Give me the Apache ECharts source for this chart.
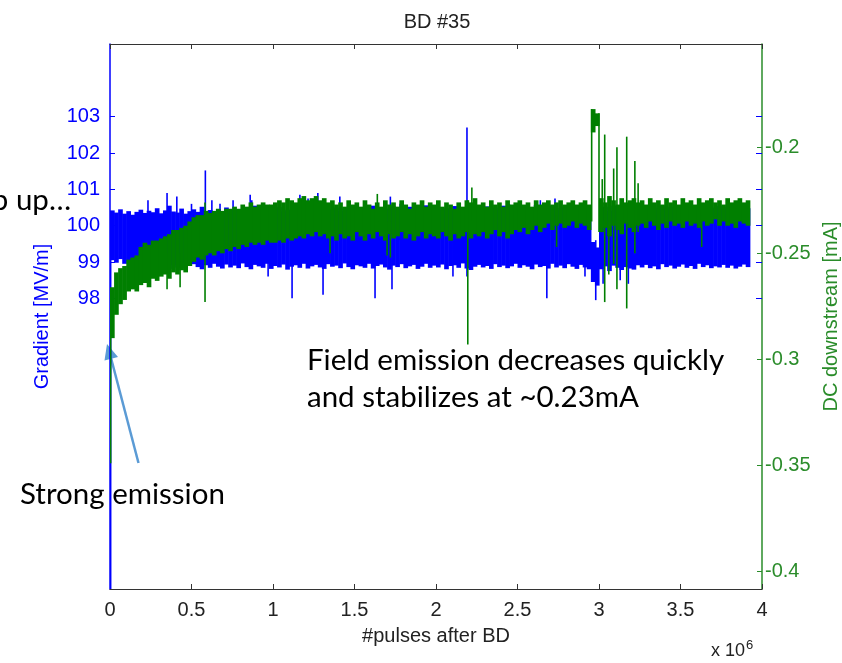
<!DOCTYPE html>
<html>
<head>
<meta charset="utf-8">
<title>BD #35</title>
<script src="https://cdn.jsdelivr.net/npm/echarts@6/dist/echarts.min.js"></script>
<style>
  html, body { margin: 0; padding: 0; background: #fff; }
  #chart { width: 842px; height: 663px; }
</style>
</head>
<body>
<div id="chart"></div>
<script>
// x in units of 1e6 pulses, one bin every 0.025e6
const binStep = 0.025;
const xTicks = [0, 0.5, 1, 1.5, 2, 2.5, 3, 3.5, 4];
const gradientTicks = [98, 99, 100, 101, 102, 103];
const currentTicks = [-0.4, -0.35, -0.3, -0.25, -0.2];

// Gradient [MV/m]: upper / lower edge of the noise band per bin
const blueHigh = [
  100.42, 100.36, 100.45, 100.33, 100.40, 100.30, 100.38, 100.44, 100.35, 100.41,
  100.37, 100.48, 100.34, 100.42, 100.55, 100.39, 100.36, 100.47, 100.33, 100.40,
  100.45, 100.38, 100.52, 100.36, 100.43, 100.35, 100.46, 100.39, 100.50, 100.37,
  100.44, 100.36, 100.41, 100.49, 100.38, 100.55, 100.40, 100.35, 100.46, 100.42,
  100.37, 100.51, 100.39, 100.44, 100.36, 100.48, 100.41, 100.53, 100.45, 100.40,
  100.47, 100.42, 100.56, 100.39, 100.45, 100.50, 100.41, 100.48, 100.43, 100.52,
  100.40, 100.46, 100.51, 100.42, 100.55, 100.44, 100.49, 100.41, 100.47, 100.53,
  100.43, 100.48, 100.40, 100.52, 100.45, 100.49, 100.42, 100.56, 100.44, 100.47,
  100.51, 100.43, 100.48, 100.45, 100.54, 100.41, 100.49, 100.46, 100.58, 100.44,
  100.48, 100.42, 100.53, 100.46, 100.50, 100.43, 100.55, 100.47, 100.44, 100.51,
  100.46, 100.52, 100.43, 100.49, 100.57, 100.45, 100.50, 100.47, 100.54, 100.44,
  100.49, 100.53, 100.46, 100.51, 100.44, 100.55, 100.48, 100.50, 99.55, 99.40,
  100.45, 100.52, 100.40, 100.55, 100.47, 100.43, 100.58, 100.46, 100.50, 100.42,
  100.48, 100.53, 100.45, 100.50, 100.44, 100.56, 100.47, 100.52, 100.43, 100.49,
  100.55, 100.46, 100.51, 100.44, 100.48, 100.53, 100.45, 100.50, 100.47, 100.54,
  100.46, 100.51, 100.44, 100.49, 100.52, 100.45, 100.48
];
const blueLow = [
  99.05, 98.98, 99.08, 98.95, 99.02, 98.90, 99.00, 98.93, 98.86, 98.97,
  98.90, 98.84, 98.95, 98.88, 98.81, 98.92, 98.85, 98.96, 98.83, 98.89,
  98.94, 98.86, 98.80, 98.91, 98.84, 98.95, 98.87, 98.82, 98.93, 98.85,
  98.90, 98.83, 98.96, 98.86, 98.80, 98.92, 98.88, 98.84, 98.95, 98.81,
  98.89, 98.85, 98.93, 98.79, 98.87, 98.91, 98.84, 98.95, 98.82, 98.88,
  98.92, 98.85, 98.81, 98.94, 98.87, 98.90, 98.83, 98.96, 98.86, 98.80,
  98.91, 98.88, 98.84, 98.95, 98.82, 98.89, 98.93, 98.85, 98.79, 98.90,
  98.86, 98.94, 98.83, 98.88, 98.92, 98.81, 98.87, 98.95, 98.84, 98.90,
  98.85, 98.93, 98.80, 98.89, 98.91, 98.84, 98.96, 98.82, 98.78, 98.87,
  98.92, 98.85, 98.89, 98.81, 98.94, 98.86, 98.90, 98.83, 98.88, 98.95,
  98.84, 98.91, 98.87, 98.80, 98.93, 98.86, 98.89, 98.82, 98.95, 98.85,
  98.90, 98.83, 98.94, 98.87, 98.81, 98.92, 98.85, 98.80, 98.45, 98.35,
  98.80, 98.88, 98.75, 98.90, 98.84, 98.78, 98.86, 98.82, 98.79, 98.91,
  98.85, 98.92, 98.83, 98.88, 98.80, 98.94, 98.86, 98.90, 98.82, 98.87,
  98.93, 98.84, 98.89, 98.81, 98.95, 98.86, 98.91, 98.83, 98.88, 98.85,
  98.92, 98.84, 98.90, 98.82, 98.87, 98.93, 98.86
];
// single-pulse excursions of the gradient: [x, low, high]
const blueSpikes = [
  [0.004, 90.0, 100.3], [0.233, 99.6, 100.7], [0.35, 99.6, 100.9], [0.41, 99.6, 100.8],
  [0.50, 99.6, 100.6], [0.585, 99.6, 101.52], [0.625, 99.6, 100.7], [0.675, 99.6, 100.6],
  [0.755, 99.6, 100.7], [0.86, 99.6, 100.85], [0.87, 99.6, 100.7], [1.04, 99.6, 100.6],
  [1.165, 99.6, 100.85], [1.215, 99.6, 100.75], [1.275, 99.6, 100.9], [1.41, 99.6, 100.8],
  [1.72, 99.6, 100.8], [1.78, 99.6, 100.6], [2.19, 99.6, 102.7], [2.45, 99.6, 100.6],
  [2.64, 99.6, 100.7], [2.73, 99.6, 100.75],
  [0.97, 98.6, 99.6], [1.117, 98.0, 99.6], [1.307, 98.1, 99.6], [1.626, 98.0, 99.6],
  [1.73, 98.25, 99.6], [2.104, 98.6, 99.6], [2.19, 98.6, 99.6], [2.68, 98.0, 99.6],
  [2.914, 98.6, 99.6], [2.98, 97.95, 99.6], [3.025, 98.4, 99.6], [3.13, 98.5, 99.6],
  [3.18, 98.4, 99.6]
];

// DC downstream [mA]: upper / lower edge of the band per bin
const greenHigh = [
  -0.266, -0.259, -0.257, -0.256, -0.253, -0.252, -0.251, -0.247, -0.245, -0.246,
  -0.244, -0.244, -0.243, -0.242, -0.241, -0.239, -0.239, -0.238, -0.237, -0.235,
  -0.233, -0.232, -0.232, -0.230, -0.231, -0.230, -0.229, -0.230, -0.229, -0.229,
  -0.228, -0.229, -0.227, -0.228, -0.226, -0.228, -0.227, -0.226, -0.227, -0.227,
  -0.226, -0.225, -0.226, -0.224, -0.225, -0.226, -0.224, -0.223, -0.225, -0.224,
  -0.223, -0.225, -0.224, -0.226, -0.225, -0.227, -0.226, -0.228, -0.225, -0.227,
  -0.226, -0.228, -0.225, -0.227, -0.229, -0.226, -0.228, -0.225, -0.227, -0.226,
  -0.228, -0.225, -0.227, -0.229, -0.226, -0.227, -0.225, -0.228, -0.226, -0.227,
  -0.225, -0.228, -0.226, -0.227, -0.229, -0.226, -0.228, -0.225, -0.226, -0.224,
  -0.227, -0.226, -0.228, -0.225, -0.227, -0.226, -0.228, -0.225, -0.227, -0.226,
  -0.225, -0.227, -0.226, -0.228, -0.225, -0.227, -0.226, -0.225, -0.227, -0.226,
  -0.225, -0.227, -0.226, -0.225, -0.227, -0.226, -0.225, -0.227, -0.182, -0.184,
  -0.224, -0.226, -0.223, -0.225, -0.227, -0.224, -0.226, -0.225, -0.224, -0.226,
  -0.225, -0.227, -0.224, -0.226, -0.225, -0.227, -0.224, -0.226, -0.225, -0.227,
  -0.224, -0.226, -0.225, -0.227, -0.224, -0.226, -0.225, -0.224, -0.226, -0.225,
  -0.227, -0.224, -0.226, -0.225, -0.224, -0.226, -0.225
];
const greenLow = [
  -0.290, -0.279, -0.274, -0.272, -0.268, -0.267, -0.268, -0.265, -0.264, -0.266,
  -0.262, -0.263, -0.261, -0.260, -0.262, -0.259, -0.260, -0.258, -0.259, -0.256,
  -0.254, -0.252, -0.253, -0.251, -0.250, -0.251, -0.249, -0.250, -0.248, -0.249,
  -0.247, -0.248, -0.246, -0.247, -0.245, -0.246, -0.245, -0.246, -0.244, -0.245,
  -0.245, -0.244, -0.245, -0.243, -0.244, -0.243, -0.242, -0.243, -0.241, -0.242,
  -0.240, -0.242, -0.241, -0.243, -0.242, -0.244, -0.241, -0.243, -0.242, -0.244,
  -0.240, -0.242, -0.244, -0.241, -0.243, -0.240, -0.242, -0.244, -0.241, -0.243,
  -0.242, -0.240, -0.243, -0.241, -0.244, -0.242, -0.240, -0.243, -0.241, -0.242,
  -0.243, -0.240, -0.242, -0.244, -0.241, -0.243, -0.242, -0.240, -0.243, -0.241,
  -0.242, -0.240, -0.243, -0.241, -0.239, -0.242, -0.240, -0.243, -0.241, -0.239,
  -0.240, -0.238, -0.241, -0.239, -0.237, -0.240, -0.238, -0.236, -0.239, -0.237,
  -0.236, -0.238, -0.237, -0.235, -0.238, -0.236, -0.237, -0.239, -0.193, -0.190,
  -0.240, -0.238, -0.242, -0.237, -0.239, -0.241, -0.236, -0.238, -0.240, -0.237,
  -0.236, -0.238, -0.235, -0.237, -0.239, -0.236, -0.238, -0.235, -0.237, -0.236,
  -0.238, -0.235, -0.237, -0.236, -0.238, -0.235, -0.237, -0.236, -0.234, -0.237,
  -0.235, -0.237, -0.236, -0.238, -0.235, -0.236, -0.237
];
const greenSpikes = [
  [0.004, -0.349, -0.268], [0.35, -0.267, -0.250], [0.43, -0.266, -0.250],
  [0.583, -0.273, -0.226], [1.35, -0.250, -0.235], [1.64, -0.235, -0.222],
  [1.70, -0.251, -0.235], [1.72, -0.252, -0.235], [2.195, -0.293, -0.225],
  [2.22, -0.235, -0.219], [2.74, -0.247, -0.232], [2.955, -0.235, -0.182],
  [3.0, -0.240, -0.184], [3.02, -0.235, -0.215], [3.035, -0.273, -0.194],
  [3.06, -0.260, -0.230], [3.09, -0.255, -0.210], [3.11, -0.267, -0.200],
  [3.17, -0.276, -0.195], [3.22, -0.250, -0.2065], [3.24, -0.240, -0.217],
  [3.63, -0.247, -0.232]
];

const BLUE = "#0000ff";
const GREEN = "#007f00";
const GREEN_AXIS = "#2a8c2a";
const TICK_FONT = "Liberation Sans";
const NOTE_FONT = "29.5px Lato";

const chart = echarts.init(document.getElementById("chart"));

const bandRender = (params, api) => {
  const x = api.value(0);
  const top = api.coord([x, api.value(2)]);
  const bottom = api.coord([x + binStep, api.value(1)]);
  return {
    type: "rect",
    shape: { x: top[0], y: top[1], width: bottom[0] - top[0] + 0.6, height: bottom[1] - top[1] },
    style: { fill: api.visual("color") },
  };
};

const spikeRender = (params, api) => {
  const x = api.value(0);
  const a = api.coord([x, api.value(1)]);
  const b = api.coord([x, api.value(2)]);
  return {
    type: "line",
    shape: { x1: a[0], y1: a[1], x2: b[0], y2: b[1] },
    style: { stroke: api.visual("color"), lineWidth: 1.6 },
  };
};

const tickLabel = (color) => ({ color, fontFamily: TICK_FONT, fontSize: 20 });

chart.setOption({
  animation: false,
  title: {
    text: "BD #35",
    left: 432,
    top: 7,
    textAlign: "center",
    textStyle: { fontFamily: TICK_FONT, fontSize: 20, fontWeight: "normal", color: "#222" },
  },
  grid: { left: 110, right: 80, top: 44, bottom: 74, outerBoundsMode: "none" },
  xAxis: [
    {
      type: "value",
      min: 0,
      max: 4,
      interval: 0.5,
      name: "#pulses after BD",
      nameLocation: "middle",
      nameGap: 37,
      nameTextStyle: { color: "#222", fontFamily: TICK_FONT, fontSize: 20 },
      axisLine: { onZero: false, lineStyle: { color: "#333", width: 1.2 } },
      axisTick: { inside: true, length: 5, lineStyle: { color: "#333" } },
      axisLabel: { ...tickLabel("#222"), margin: 11 },
      splitLine: { show: false },
    },
    {
      type: "value",
      position: "top",
      min: 0,
      max: 4,
      interval: 0.5,
      axisLine: { onZero: false, lineStyle: { color: "#333", width: 1.2 } },
      axisTick: { inside: true, length: 5, lineStyle: { color: "#333" } },
      axisLabel: { show: false },
      splitLine: { show: false },
    },
  ],
  yAxis: [
    {
      type: "value",
      position: "left",
      min: 90,
      max: 105,
      name: "Gradient [MV/m]",
      nameLocation: "middle",
      nameRotate: 90,
      nameGap: 58,
      nameTextStyle: { color: BLUE, fontFamily: TICK_FONT, fontSize: 20 },
      axisLine: { onZero: false, lineStyle: { color: BLUE, width: 1.5 } },
      axisTick: { inside: true, length: 5, customValues: gradientTicks, lineStyle: { color: BLUE } },
      axisLabel: { ...tickLabel(BLUE), margin: 10, customValues: gradientTicks },
      splitLine: { show: false },
    },
    {
      type: "value",
      position: "right",
      min: -0.4083,
      max: -0.1513,
      name: "DC downstream [mA]",
      nameLocation: "middle",
      nameRotate: 90,
      nameGap: 58,
      nameTextStyle: { color: GREEN_AXIS, fontFamily: TICK_FONT, fontSize: 20 },
      axisLine: { onZero: false, lineStyle: { color: GREEN_AXIS, width: 1.5 } },
      axisTick: { inside: true, length: 5, customValues: currentTicks, lineStyle: { color: GREEN_AXIS } },
      axisLabel: {
        ...tickLabel(GREEN_AXIS),
        margin: 3,
        customValues: currentTicks,
        formatter: (v) => String(Math.round(v * 100) / 100),
      },
      splitLine: { show: false },
    },
    {
      // gradient ticks mirrored on the right edge of the box
      type: "value",
      position: "right",
      min: 90,
      max: 105,
      axisLine: { show: false, onZero: false },
      axisTick: { inside: true, length: 6, customValues: gradientTicks, lineStyle: { color: BLUE } },
      axisLabel: { show: false },
      splitLine: { show: false },
    },
  ],
  series: [
    {
      name: "Gradient",
      type: "custom",
      yAxisIndex: 0,
      clip: true,
      itemStyle: { color: BLUE },
      encode: { x: 0, y: [1, 2] },
      data: blueHigh.map((h, i) => [i * binStep, blueLow[i], h]),
      renderItem: bandRender,
    },
    {
      name: "Gradient spikes",
      type: "custom",
      yAxisIndex: 0,
      clip: true,
      itemStyle: { color: BLUE },
      encode: { x: 0, y: [1, 2] },
      data: blueSpikes,
      renderItem: spikeRender,
    },
    {
      name: "DC downstream",
      type: "custom",
      yAxisIndex: 1,
      clip: true,
      itemStyle: { color: GREEN },
      encode: { x: 0, y: [1, 2] },
      data: greenHigh.map((h, i) => [i * binStep, greenLow[i], h]),
      renderItem: bandRender,
    },
    {
      name: "DC spikes",
      type: "custom",
      yAxisIndex: 1,
      clip: true,
      itemStyle: { color: GREEN },
      encode: { x: 0, y: [1, 2] },
      data: greenSpikes,
      renderItem: spikeRender,
    },
  ],
  graphic: [
    {
      type: "text",
      left: 711,
      top: 639,
      style: {
        text: "x 10{sup|6}",
        fill: "#222",
        font: "18px Liberation Sans",
        rich: { sup: { fontSize: 13, fontFamily: TICK_FONT, verticalAlign: "top", padding: [0, 0, 12, 1] } },
      },
    },
    {
      type: "text",
      x: 71,
      y: 200,
      style: { text: "p up\u2026", fill: "#000", font: NOTE_FONT, align: "right", verticalAlign: "middle" },
    },
    {
      type: "text",
      x: 307,
      y: 360,
      style: { text: "Field emission decreases quickly", fill: "#000", font: NOTE_FONT, verticalAlign: "middle" },
    },
    {
      type: "text",
      x: 307,
      y: 397,
      style: { text: "and stabilizes at ~0.23mA", fill: "#000", font: NOTE_FONT, verticalAlign: "middle" },
    },
    {
      type: "text",
      x: 20,
      y: 494,
      style: { text: "Strong emission", fill: "#000", font: NOTE_FONT, verticalAlign: "middle" },
    },
    {
      type: "line",
      shape: { x1: 138.5, y1: 463, x2: 111, y2: 358 },
      style: { stroke: "#5b9bd5", lineWidth: 2.5 },
    },
    {
      type: "polygon",
      shape: { points: [[107, 344], [104.5, 360.5], [118, 357]] },
      style: { fill: "#5b9bd5" },
    },
  ],
});
</script>
</body>
</html>
